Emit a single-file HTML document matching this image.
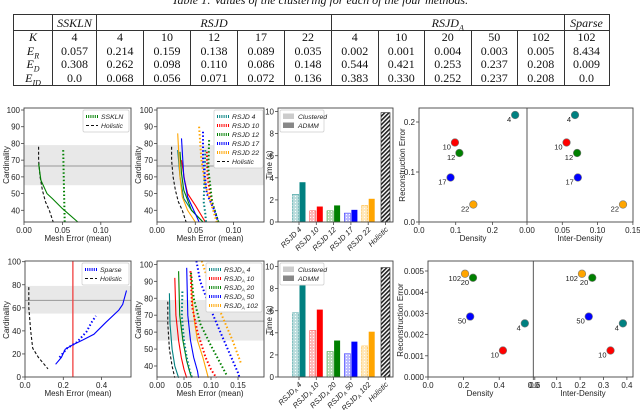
<!DOCTYPE html>
<html><head><meta charset="utf-8">
<style>
body{margin:0;background:#fff;width:640px;height:410px;overflow:hidden;position:relative;font-family:"Liberation Sans",sans-serif}
#cap{position:absolute;top:-7px;left:0;width:640px;text-align:center;font:italic 12px "Liberation Serif",serif;color:#111}
.row{position:absolute;left:13px;display:flex;font:12px "Liberation Serif",serif;color:#111;border-right:1px solid #333}
.row div{border-left:1px solid #333;text-align:center;box-sizing:border-box;height:100%;white-space:nowrap}
.r{height:13.5px;line-height:13.5px}
.hd{top:14px;height:17px;line-height:17px;font-style:italic;border-top:1px solid #333;border-bottom:1px solid #333;box-sizing:border-box}
.bt{border-bottom:1px solid #333}
.w0{width:39px}.w1{width:44px}.w2{width:47px}.w3{width:46.5px}.w4{width:45px}.w5{width:235px}.w6{width:232.5px}
sub{line-height:0;font-size:8px}
svg{position:absolute;left:0;top:0}
</style></head><body>
<div id="cap">Table 1: Values of the clustering for each of the four methods.</div>
<div>
<div class="row hd"><div class="w0"></div><div class="w1">SSKLN</div><div class="w5">RSJD</div><div class="w6">RSJD<sub>A</sub></div><div class="w4">Sparse</div></div>
<div class="row r" style="top:31px"><div class="w0"><i>K</i></div><div class="w1">4</div><div class="w2">4</div><div class="w2">10</div><div class="w2">12</div><div class="w2">17</div><div class="w2">22</div><div class="w3">4</div><div class="w3">10</div><div class="w3">20</div><div class="w3">50</div><div class="w3">102</div><div class="w4">102</div></div>
<div class="row r" style="top:44.5px"><div class="w0"><i>E<sub>R</sub></i></div><div class="w1">0.057</div><div class="w2">0.214</div><div class="w2">0.159</div><div class="w2">0.138</div><div class="w2">0.089</div><div class="w2">0.035</div><div class="w3">0.002</div><div class="w3">0.001</div><div class="w3">0.004</div><div class="w3">0.003</div><div class="w3">0.005</div><div class="w4">8.434</div></div>
<div class="row r" style="top:58px"><div class="w0"><i>E<sub>D</sub></i></div><div class="w1">0.308</div><div class="w2">0.262</div><div class="w2">0.098</div><div class="w2">0.110</div><div class="w2">0.086</div><div class="w2">0.148</div><div class="w3">0.544</div><div class="w3">0.421</div><div class="w3">0.253</div><div class="w3">0.237</div><div class="w3">0.208</div><div class="w4">0.009</div></div>
<div class="row r bt" style="top:71.5px"><div class="w0"><i>E<sub>ID</sub></i></div><div class="w1">0.0</div><div class="w2">0.068</div><div class="w2">0.056</div><div class="w2">0.071</div><div class="w2">0.072</div><div class="w2">0.136</div><div class="w3">0.383</div><div class="w3">0.330</div><div class="w3">0.252</div><div class="w3">0.237</div><div class="w3">0.208</div><div class="w4">0.0</div></div>
</div>
<svg id="fig" width="640" height="410" xmlns="http://www.w3.org/2000/svg">
<defs>
<pattern id="dots" width="3" height="3" patternUnits="userSpaceOnUse"><rect width="3" height="3" fill="#fff" fill-opacity="0.5"/><circle cx="1.5" cy="1.5" r="0.6" fill="#fff"/></pattern>
<pattern id="diag" width="3" height="3" patternUnits="userSpaceOnUse" patternTransform="rotate(45)"><rect width="3" height="3" fill="#fff"/><rect width="1.6" height="3" fill="#222"/></pattern>
</defs>
</svg>
<script>
// ---------- data ----------
const c1Holistic=[[0.019,78],[0.019,70],[0.021,60],[0.024,52],[0.028,45],[0.033,40],[0.038,33]];
const c1SsklnSolid=[[0.019,68],[0.022,58],[0.03,50],[0.037,47],[0.05,41],[0.07,33]];
const c1SsklnDotted=[[0.051,76],[0.052,55],[0.053,33]];
const c2Labels=['RSJD 4','RSJD 10','RSJD 12','RSJD 17','RSJD 22'];
const c2Solid=[
 [[0.027,76],[0.03,60],[0.035,47],[0.045,40],[0.06,33]],
 [[0.032,70],[0.036,58],[0.04,50],[0.05,43],[0.063,33]],
 [[0.03,75],[0.032,62],[0.035,52],[0.045,40],[0.06,33]],
 [[0.032,83],[0.035,60],[0.04,48],[0.05,38],[0.055,33]],
 [[0.027,86],[0.03,60],[0.033,48],[0.04,40],[0.05,33]]];
const c2Dotted=[
 [[0.063,76],[0.062,60],[0.061,45],[0.063,38],[0.064,33]],
 [[0.065,75],[0.066,60],[0.07,48],[0.075,40],[0.08,33]],
 [[0.068,82],[0.067,65],[0.072,45],[0.08,33]],
 [[0.06,87],[0.06,70],[0.065,50],[0.075,40],[0.08,33]],
 [[0.055,90],[0.058,70],[0.063,55],[0.07,45],[0.078,33]]];
const c4Holistic=[[0.02,78],[0.02,60],[0.03,40],[0.04,25],[0.07,17],[0.12,7]];
const c4SparseSolid=[[0.16,11],[0.19,17],[0.21,24],[0.25,28],[0.3,32],[0.36,37],[0.42,47],[0.49,58],[0.51,63],[0.53,75]];
const c4SparseDotted=[[0.18,17],[0.22,25],[0.27,30],[0.32,39],[0.35,48],[0.37,53]];
const c5Labels=['4','10','20','50','102'];
const c5Holistic=[[0.02,78],[0.02,65],[0.023,50],[0.028,40],[0.033,33]];
const c5Solid=[
 [[0.023,83],[0.024,65],[0.028,50],[0.033,40],[0.04,33]],
 [[0.033,92],[0.035,70],[0.04,55],[0.045,45],[0.05,38],[0.055,33]],
 [[0.04,96],[0.042,70],[0.048,55],[0.055,43],[0.062,35],[0.065,33]],
 [[0.055,98],[0.057,70],[0.062,55],[0.068,45],[0.075,37],[0.077,33]],
 [[0.063,95],[0.065,80],[0.07,65],[0.075,55],[0.085,45],[0.095,33]]];
const c5Dotted=[
 [[0.047,84],[0.046,70],[0.05,55],[0.055,45],[0.06,38],[0.065,33]],
 [[0.062,96],[0.065,75],[0.075,60],[0.09,45],[0.1,38],[0.11,33]],
 [[0.063,95],[0.068,80],[0.08,65],[0.1,52],[0.12,40],[0.13,34]],
 [[0.073,102],[0.08,90],[0.1,73],[0.12,58],[0.135,47],[0.15,36],[0.153,33]],
 [[0.083,102],[0.1,85],[0.12,70],[0.14,55],[0.155,42]]];
const bar1Cats=['4','10','12','17','22'];
const bar1Clustered=[2.5,1.0,1.0,0.8,1.5];
const bar1Admm=[3.6,1.4,1.5,1.1,2.1];
const bar2Cats=['4','10','20','50','102'];
const bar2Clustered=[5.8,4.2,2.3,2.1,2.8];
const bar2Admm=[8.3,6.1,3.3,3.2,4.1];
const holisticTime=[9.9,9.9];
const sc1Labels=['4','10','12','17','22'];
const sc1Err=[0.214,0.159,0.138,0.089,0.035];
const sc1Density=[0.262,0.098,0.110,0.086,0.148];
const sc1Inter=[0.068,0.056,0.071,0.072,0.136];
const sc2Labels=['4','10','20','50','102'];
const sc2Err=[0.00253,0.00125,0.00468,0.00285,0.00487];
const sc2Density=[0.544,0.421,0.253,0.237,0.208];
const sc2Inter=[0.383,0.330,0.252,0.237,0.208];
const colors=['#008080','#ff0000','#008000','#0000ff','#ffa500'];

const svg=document.getElementById('fig');
const NS='http://www.w3.org/2000/svg';
function mk(tag,a,p){const e=document.createElementNS(NS,tag);for(const k in a)e.setAttribute(k,a[k]);(p||svg).appendChild(e);return e;}
function txt(s,x,y,o){const t=mk('text',Object.assign({x:x,y:y,'font-size':8,fill:'#222','font-family':'Liberation Sans, sans-serif'},o||{}));t.textContent=s;return t;}
function lin(x0,x1,d0,d1){return v=>x0+(v-d0)/(d1-d0)*(x1-x0);}

function frame(x0,y0,x1,y1,name){
 const r=mk('rect',{x:x0,y:y0,width:x1-x0,height:y1-y0,fill:'none',stroke:'#444','stroke-width':0.9});
 
 
}
function xticks(sx,vals,labs,y){vals.forEach((v,i)=>{mk('line',{x1:sx(v),x2:sx(v),y1:y,y2:y+3,stroke:'#444','stroke-width':0.8});
 const t=txt(labs[i],sx(v),y+11,{'text-anchor':'middle'});
 
 });}
function yticks(sy,vals,labs,x){vals.forEach((v,i)=>{mk('line',{x1:x-3,x2:x,y1:sy(v),y2:sy(v),stroke:'#444','stroke-width':0.8});
 const t=txt(labs[i],x-4,sy(v)+3,{'text-anchor':'end'});
 
 });}
function ytitle(s,x,y){const t=txt(s,x,y,{'text-anchor':'middle',transform:`rotate(-90 ${x} ${y})`});
 
 }
function xtitle(s,x,y){const t=txt(s,x,y,{'text-anchor':'middle'});
 
 }
function path(pts,sx,sy,col,style,name){
 const d=pts.map((p,i)=>(i?'L':'M')+sx(p[0]).toFixed(1)+','+sy(p[1]).toFixed(1)).join('');
 const o={d:d,fill:'none',stroke:col};
 if(style==='dot'){o['stroke-width']=2;o['stroke-dasharray']='1.5,2.2';}
 else if(style==='dash'){o['stroke-width']=1.1;o['stroke-dasharray']='3,2';}
 else o['stroke-width']=1.1;
 const e=mk('path',o);
 
 
}
function band(sx0,sx1,sy){
 const b=mk('rect',{x:sx0,y:sy(79),width:sx1-sx0,height:sy(55)-sy(79),fill:'#e8e8e8'});
 
 
 const l=mk('line',{x1:sx0,x2:sx1,y1:sy(66.5),y2:sy(66.5),stroke:'#999','stroke-width':1});
 
 
}
function legend(x,y,w,entries,name){
 const g=mk('g',{});
 
 
 mk('rect',{x:x,y:y,width:w,height:entries.length*9+4,fill:'#fff',stroke:'#ccc','stroke-width':0.7,rx:1.5},g);
 entries.forEach((e,i)=>{const yy=y+6.5+i*9;
  if(e.type==='box'){mk('rect',{x:x+3,y:yy-3,width:11,height:5.5,fill:e.col,opacity:e.op||1},g);}
  else{const o={x1:x+3,x2:x+15,y1:yy,y2:yy,stroke:e.col};
   if(e.type==='dot'){o['stroke-width']=3;o['stroke-dasharray']='1,1.2';}else if(e.type==='dash'){o['stroke-width']=1.1;o['stroke-dasharray']='3,2';}else o['stroke-width']=1.2;
   mk('line',o,g);}
  const t=txt('',x+18,yy+2.5,{'font-style':'italic','font-size':6.8});
  t.textContent=e.lab; if(e.sub){const ts=document.createElementNS(NS,'tspan');ts.setAttribute('font-size',4.5);ts.setAttribute('dy',1.5);ts.textContent='A';t.appendChild(ts);const t2=document.createElementNS(NS,'tspan');t2.setAttribute('dy',-1.5);t2.textContent=' '+e.sub;t.appendChild(t2);}
  g.appendChild(t);
  
  });
}

function cardChart(x0,x1,y0,y1,xmax,ymin,ymax,xt,xl,yt,yl,name){
 const sx=lin(x0,x1,0,xmax), sy=lin(y1,y0,ymin,ymax);
 return {sx,sy,done:()=>{frame(x0,y0,x1,y1,name);xticks(sx,xt,xl,y1);yticks(sy,yt,yl,x0);}};
}
let A=cardChart(24,131,108,222,0.1393,33,101.2,[0,0.05,0.1],['0.00','0.05','0.10'],[40,50,60,70,80,90,100],['40','50','60','70','80','90','100'],'sskln-chart');
band(24,131,A.sy);
path(c1Holistic,A.sx,A.sy,'#111','dash','holistic-line');
path(c1SsklnSolid,A.sx,A.sy,'#008000','solid','sskln-admm-line');
path(c1SsklnDotted,A.sx,A.sy,'#008000','dot','sskln-clustered-line');
A.done();
legend(83,110,46,[{type:'dot',col:'#008000',lab:'SSKLN'},{type:'dash',col:'#111',lab:'Holistic'}],'sskln-legend');
ytitle('Cardinality',9,165);xtitle('Mesh Error (mean)',78,241);

let B=cardChart(157,264,108,222,0.1397,33,101.2,[0,0.05,0.1],['0.00','0.05','0.10'],[40,50,60,70,80,90,100],['40','50','60','70','80','90','100'],'rsjd-chart');
band(157,264,B.sy);
path(c1Holistic,B.sx,B.sy,'#111','dash','holistic-line');
c2Solid.forEach((p,i)=>path(p,B.sx,B.sy,colors[i],'solid','rsjd-admm-line'));
c2Dotted.forEach((p,i)=>path(p,B.sx,B.sy,colors[i],'dot','rsjd-clustered-line'));
B.done();
legend(214,110,49,c2Labels.map((l,i)=>({type:'dot',col:colors[i],lab:l})).concat([{type:'dash',col:'#111',lab:'Holistic'}]),'rsjd-legend');
ytitle('Cardinality',141,165);xtitle('Mesh Error (mean)',210,241);

let C=cardChart(25,131,261,377,0.5535,0,100.6,[0,0.2,0.4],['0.0','0.2','0.4'],[0,20,40,60,80,100],['0','20','40','60','80','100'],'sparse-chart');
band(25,131,C.sy);
const rl=mk('line',{x1:C.sx(0.25),x2:C.sx(0.25),y1:261,y2:377,stroke:'#f04040','stroke-width':1.3});


path(c4Holistic,C.sx,C.sy,'#111','dash','holistic-line');
path(c4SparseSolid,C.sx,C.sy,'#0000ff','solid','sparse-admm-line');
path(c4SparseDotted,C.sx,C.sy,'#0000ff','dot','sparse-clustered-line');
C.done();
legend(82,263,47,[{type:'dot',col:'#0000ff',lab:'Sparse'},{type:'dash',col:'#111',lab:'Holistic'}],'sparse-legend');
ytitle('Cardinality',9,320);xtitle('Mesh Error (mean)',78,396);

let D=cardChart(157,264,261,377,0.1981,33.5,102,[0,0.05,0.1,0.15],['0.00','0.05','0.10','0.15'],[40,50,60,70,80,90,100],['40','50','60','70','80','90','100'],'rsjda-chart');
band(157,264,D.sy);
path(c5Holistic,D.sx,D.sy,'#111','dash','holistic-line');
c5Solid.forEach((p,i)=>path(p,D.sx,D.sy,colors[i],'solid','rsjda-admm-line'));
c5Dotted.forEach((p,i)=>path(p,D.sx,D.sy,colors[i],'dot','rsjda-clustered-line'));
D.done();
legend(206,263,56,c5Labels.map((l,i)=>({type:'dot',col:colors[i],lab:'RSJD',sub:l})),'rsjda-legend');
ytitle('Cardinality',141,320);xtitle('Mesh Error (mean)',210,396);

function barChart(x0,x1,y0,y1,cats,clu,adm,hol,sub,name){
 const sy=lin(y1,y1-110.5,0,10);
 const step=17.3, c0=x0+21;
 cats.forEach((c,i)=>{const cx=c0+i*step;
  const b1=mk('rect',{x:cx-6.5,y:sy(clu[i]),width:6,height:sy(0)-sy(clu[i]),fill:colors[i],'fill-opacity':0.55,stroke:colors[i],'stroke-width':0.6});
  
  
  mk('rect',{x:cx-6.5,y:sy(clu[i]),width:6,height:sy(0)-sy(clu[i]),fill:'url(#dots)'});
  const b2=mk('rect',{x:cx+0.5,y:sy(adm[i]),width:6,height:sy(0)-sy(adm[i]),fill:colors[i]});
  
  
  const t=txt(sub?'RSJD':'RSJD '+c,cx+3,y1+8,{'text-anchor':'end','font-style':'italic','font-size':7.5,transform:`rotate(-45 ${cx+3} ${y1+8})`});
  if(sub){const ts=document.createElementNS(NS,'tspan');ts.setAttribute('font-size',5);ts.setAttribute('dy',1.5);ts.textContent='A';t.appendChild(ts);const t2=document.createElementNS(NS,'tspan');t2.setAttribute('dy',-1.5);t2.textContent=' '+c;t.appendChild(t2);}
  
  
 });
 const hx=c0+5*step;
 const hb=mk('rect',{x:hx-4.5,y:sy(hol),width:9,height:sy(0)-sy(hol),fill:'url(#diag)',stroke:'#222','stroke-width':0.6});
 
 
 const ht=txt('Holistic',hx+3,y1+8,{'text-anchor':'end','font-style':'italic','font-size':7.5,transform:`rotate(-45 ${hx+3} ${y1+8})`});
 
 
 frame(x0,y0,x1,y1,name);
 yticks(sy,[0,2,4,6,8,10],['0','2','4','6','8','10'],x0);
 cats.forEach((c,i)=>mk('line',{x1:c0+i*step,x2:c0+i*step,y1:y1,y2:y1+3,stroke:'#444','stroke-width':0.8}));
 mk('line',{x1:hx,x2:hx,y1:y1,y2:y1+3,stroke:'#444','stroke-width':0.8});
 legend(x0+2,y0+2,44,[{type:'box',col:'#aaa',op:0.6,lab:'Clustered'},{type:'box',col:'#888',lab:'ADMM'}],name+'-legend');
}
barChart(278,393,108,222,bar1Cats,bar1Clustered,bar1Admm,holisticTime[0],false,'rsjd-time-chart');
ytitle('Time (s)',272,165);
barChart(278,393,261,377,bar2Cats,bar2Clustered,bar2Admm,holisticTime[1],true,'rsjda-time-chart');
ytitle('Time (s)',272,320);

function scatter(x0,xm,x1,y0,y1,sy,sxl,sxr,err,den,inter,labs,xtl,xtr,ytv,ytl,name){
 frame(x0,y0,x1,y1,name);
 mk('line',{x1:xm,x2:xm,y1:y0,y2:y1,stroke:'#444','stroke-width':0.9});
 [[sxl,den],[sxr,inter]].forEach(([sx,arr])=>{
  err.forEach((e,i)=>{const c=mk('circle',{cx:sx(arr[i]),cy:sy(e),r:3.8,fill:colors[i],stroke:'#777','stroke-width':0.6});
   
   
   const t=txt(labs[i],sx(arr[i])-4,sy(e)+7,{'text-anchor':'end','font-size':7.5});
   
   });
 });
 xticks(sxl,xtl[0],xtl[1],y1);xticks(sxr,xtr[0],xtr[1],y1);
 yticks(sy,ytv,ytl,x0);
}
scatter(419,527,633,108,222,lin(222,172,0,0.1),lin(419,455.7,0,0.1),lin(527,562.3,0,0.05),sc1Err,sc1Density,sc1Inter,sc1Labels,
 [[0,0.1,0.2],['0.0','0.1','0.2']],[[0,0.05,0.1,0.15],['0.00','0.05','0.10','0.15']],[0,0.1,0.2],['0.0','0.1','0.2'],'scatter-rsjd');
ytitle('Reconstruction Error',405,165);xtitle('Density',473,241);xtitle('Inter-Density',580,241);
scatter(428,533.3,633,261,377,lin(377,271,0,0.005),lin(428,463.6,0,0.2),lin(533.3,556.7,0,0.1),sc2Err,sc2Density,sc2Inter,sc2Labels,
 [[0,0.2,0.4,0.6],['0.0','0.2','0.4','0.6']],[[0,0.1,0.2,0.3,0.4],['0.0','0.1','0.2','0.3','0.4']],[0,0.001,0.002,0.003,0.004,0.005],['0.000','0.001','0.002','0.003','0.004','0.005'],'scatter-rsjda');
ytitle('Reconstruction Error',403,320);xtitle('Density',480,396);xtitle('Inter-Density',583,396);
</script>
</body></html>
